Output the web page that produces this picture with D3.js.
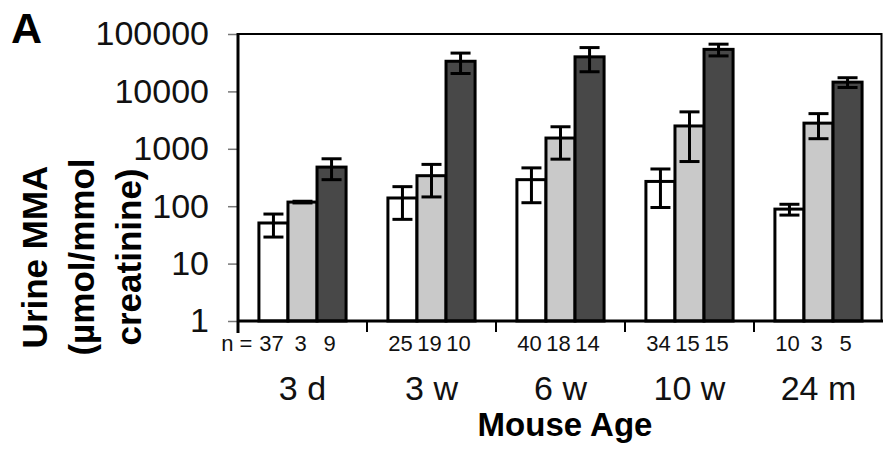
<!DOCTYPE html>
<html>
<head>
<meta charset="utf-8">
<script src="https://cdn.jsdelivr.net/npm/d3@7"></script>
<style>
  body { margin: 0; background: #fff; }
  svg { display: block; font-family: "Liberation Sans", Arial, sans-serif; }
</style>
</head>
<body>
<svg id="chart" width="883" height="449"></svg>
<script>
// mouse age groups
let categories = ['3 d', '3 w', '6 w', '10 w', '24 m'];

// three genotype groups (white, light gray, dark gray bars)
let meanWhite = [51, 139, 290, 270, 89];
let sdWhite   = [22, 80, 175, 175, 19];
let meanGray  = [118, 340, 1540, 2500, 2800];
let sdGray    = [4, 195, 880, 1900, 1300];
let meanDark  = [480, 33500, 40000, 54000, 14500];
let sdDark    = [190, 13000, 18000, 12500, 2800];

// n per bar
let nWhite = [37, 25, 40, 34, 10];
let nGray  = [3, 19, 18, 15, 3];
let nDark  = [9, 10, 14, 15, 5];

let yTicks = [1, 10, 100, 1000, 10000, 100000];

let series = [
  {key: 'white', mean: meanWhite, sd: sdWhite, n: nWhite, fill: '#ffffff'},
  {key: 'gray',  mean: meanGray,  sd: sdGray,  n: nGray,  fill: '#c9c9c9'},
  {key: 'dark',  mean: meanDark,  sd: sdDark,  n: nDark,  fill: '#484848'}
];

let rows = [];
categories.forEach(function(c, i) {
  series.forEach(function(s, j) {
    rows.push({cat: c, idx: j, mean: s.mean[i], sd: s.sd[i], n: s.n[i], fill: s.fill});
  });
});

let plotLeft = 238, plotRight = 883, plotTop = 34, plotBottom = 321;
let svg = d3.select('#chart');

let x0 = d3.scaleBand().domain(categories).range([plotLeft, plotRight]).padding(0);
let x1 = d3.scaleBand().domain([0, 1, 2]).range([0, x0.bandwidth()]).paddingOuter(0.72).paddingInner(0);
let y = d3.scaleLog().domain([1, 100000]).range([plotBottom, plotTop]);

// frame (top + right)
svg.append('path')
  .attr('d', 'M' + plotLeft + ',' + plotTop + 'H' + (plotRight - 1.5) + 'V' + plotBottom)
  .attr('fill', 'none').attr('stroke', '#000').attr('stroke-width', 2);

// bars
let g = svg.append('g');
g.selectAll('rect.bar')
  .data(rows)
  .enter().append('rect')
  .attr('class', 'bar')
  .attr('x', d => x0(d.cat) + x1(d.idx))
  .attr('width', x1.bandwidth())
  .attr('y', d => y(d.mean))
  .attr('height', d => y(1) - y(d.mean))
  .attr('fill', d => d.fill)
  .attr('stroke', '#000')
  .attr('stroke-width', 3);

// error bars (mean +/- sd)
let cap = 10;
let eb = g.selectAll('g.err')
  .data(rows)
  .enter().append('g')
  .attr('class', 'err')
  .attr('transform', d => 'translate(' + (x0(d.cat) + x1(d.idx) + x1.bandwidth() / 2) + ',0)');
eb.append('line')
  .attr('y1', d => y(d.mean + d.sd)).attr('y2', d => y(Math.max(1, d.mean - d.sd)));
eb.append('line')
  .attr('x1', -cap).attr('x2', cap)
  .attr('y1', d => y(d.mean + d.sd)).attr('y2', d => y(d.mean + d.sd));
eb.append('line')
  .attr('x1', -cap).attr('x2', cap)
  .attr('y1', d => y(Math.max(1, d.mean - d.sd))).attr('y2', d => y(Math.max(1, d.mean - d.sd)));
eb.selectAll('line').attr('stroke', '#000').attr('stroke-width', 3);

// y axis
let yAxis = svg.append('g')
  .attr('transform', 'translate(' + plotLeft + ',0)')
  .call(d3.axisLeft(y).tickValues(yTicks).tickFormat(d3.format('d')).tickSize(10).tickPadding(19));
yAxis.select('.domain').remove();
yAxis.selectAll('.tick line').attr('stroke', '#777').attr('stroke-width', 1.5);
yAxis.selectAll('.tick text').attr('font-size', 34).attr('fill', '#111')
  .attr('font-family', '"Liberation Sans", Arial, sans-serif');
svg.append('line')
  .attr('x1', plotLeft).attr('x2', plotLeft).attr('y1', plotTop - 1).attr('y2', plotBottom + 12)
  .attr('stroke', '#000').attr('stroke-width', 3);

// x axis line + category boundary ticks
svg.append('line')
  .attr('x1', plotLeft).attr('x2', plotRight).attr('y1', plotBottom).attr('y2', plotBottom)
  .attr('stroke', '#000').attr('stroke-width', 3);
svg.selectAll('line.ctick')
  .data(categories.slice(1))
  .enter().append('line')
  .attr('class', 'ctick')
  .attr('x1', d => x0(d)).attr('x2', d => x0(d))
  .attr('y1', plotBottom).attr('y2', plotBottom + 11)
  .attr('stroke', '#000').attr('stroke-width', 2);

// n labels
svg.selectAll('text.n')
  .data(rows)
  .enter().append('text')
  .attr('class', 'n')
  .attr('x', d => x0(d.cat) + x1(d.idx) + x1.bandwidth() / 2 - 2)
  .attr('y', 351)
  .attr('text-anchor', 'middle')
  .attr('font-size', 22)
  .attr('fill', '#111')
  .text(d => d.n);
svg.append('text')
  .attr('x', x0(categories[0]) + x1(0) + x1.bandwidth() / 2 - 21)
  .attr('y', 351)
  .attr('text-anchor', 'end')
  .attr('font-size', 22)
  .attr('fill', '#111')
  .text('n =');

// category labels
svg.selectAll('text.cat')
  .data(categories)
  .enter().append('text')
  .attr('class', 'cat')
  .attr('x', d => x0(d) + x0.bandwidth() / 2)
  .attr('y', 400)
  .attr('text-anchor', 'middle')
  .attr('font-size', 34)
  .attr('fill', '#111')
  .text(d => d);

// x title
svg.append('text')
  .attr('x', 565).attr('y', 436)
  .attr('text-anchor', 'middle')
  .attr('font-size', 33).attr('font-weight', 'bold')
  .text('Mouse Age');

// y title
let yTitle = ['Urine MMA', '(\u00b5mol/mmol', 'creatinine)'];
svg.append('g')
  .attr('transform', 'translate(0,257) rotate(-90)')
  .selectAll('text')
  .data(yTitle)
  .enter().append('text')
  .attr('x', 0)
  .attr('y', (d, i) => 47 + i * 47)
  .attr('text-anchor', 'middle')
  .attr('font-size', 35).attr('font-weight', 'bold')
  .text(d => d);

// panel letter
svg.append('text')
  .attr('x', 11).attr('y', 43)
  .attr('font-size', 43).attr('font-weight', 'bold')
  .text('A');
</script>
</body>
</html>
